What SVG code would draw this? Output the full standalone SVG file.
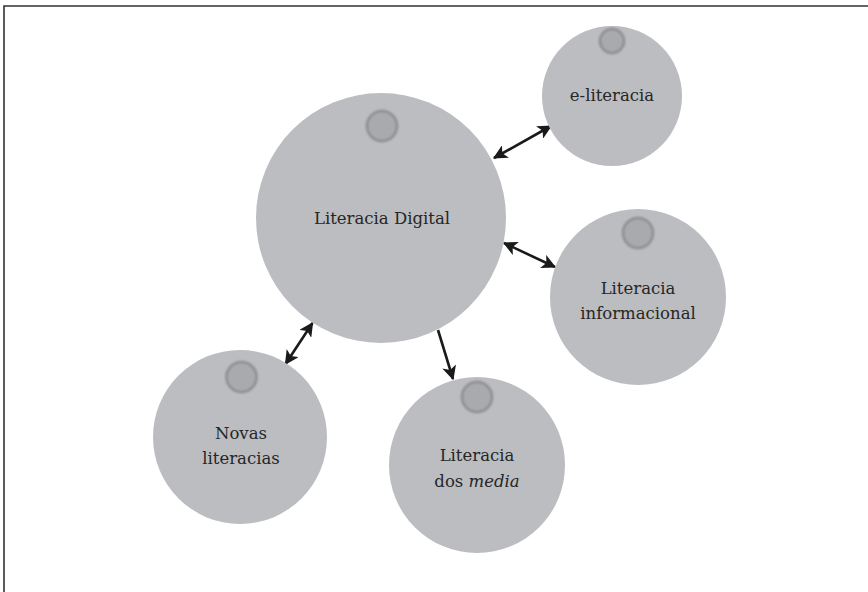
<svg xmlns="http://www.w3.org/2000/svg" width="868" height="592" viewBox="0 0 868 592">
<defs>
<style>
.big{fill:#bcbdc0}
.knob{fill:#a9aaad;stroke:#8c8d90;stroke-width:2.5}
.lbl{font-family:"DejaVu Serif","Liberation Serif",serif;font-size:16.5px;fill:#262626;text-anchor:middle}
.con{stroke:#1a1a1a;stroke-width:2.6;fill:none}
</style>
<filter id="soft" x="-50%" y="-50%" width="200%" height="200%"><feGaussianBlur stdDeviation="0.8"/></filter>
<marker id="ah" viewBox="0 0 12 12" refX="11" refY="6" markerWidth="5.5" markerHeight="5.5" orient="auto-start-reverse" markerUnits="strokeWidth">
<path d="M0,0 L12,6 L0,12 L3,6 Z" fill="#1a1a1a"/>
</marker>
</defs>
<rect width="868" height="592" fill="#fff"/>
<path d="M4,592 V6 H868" fill="none" stroke="#333" stroke-width="1.6"/>
<g id="connectors">
<line class="con" x1="494" y1="158" x2="551" y2="126" marker-start="url(#ah)" marker-end="url(#ah)"/>
<line class="con" x1="504" y1="243" x2="555" y2="267" marker-start="url(#ah)" marker-end="url(#ah)"/>
<line class="con" x1="285.5" y1="364" x2="312.5" y2="323" marker-start="url(#ah)" marker-end="url(#ah)"/>
<line class="con" x1="438" y1="330" x2="453" y2="379" marker-end="url(#ah)"/>
</g>
<g id="literacia-digital">
<circle class="big" cx="381" cy="218" r="125"/>
<circle class="knob" cx="382" cy="126" r="15" filter="url(#soft)"/>
<text class="lbl" x="382" y="224">Literacia Digital</text>
</g>
<g id="e-literacia">
<circle class="big" cx="612" cy="96" r="70"/>
<circle class="knob" cx="612" cy="41" r="12" filter="url(#soft)"/>
<text class="lbl" x="612" y="101">e-literacia</text>
</g>
<g id="literacia-informacional">
<circle class="big" cx="638" cy="297" r="88"/>
<circle class="knob" cx="638" cy="233" r="15" filter="url(#soft)"/>
<text class="lbl" x="638" y="294">Literacia</text>
<text class="lbl" x="638" y="319">informacional</text>
</g>
<g id="novas-literacias">
<circle class="big" cx="240" cy="437" r="87"/>
<circle class="knob" cx="241.5" cy="377" r="15" filter="url(#soft)"/>
<text class="lbl" x="241" y="439">Novas</text>
<text class="lbl" x="241" y="464">literacias</text>
</g>
<g id="literacia-dos-media">
<circle class="big" cx="477" cy="465" r="88"/>
<circle class="knob" cx="477" cy="397" r="15" filter="url(#soft)"/>
<text class="lbl" x="477" y="461">Literacia</text>
<text class="lbl" x="477" y="487">dos <tspan font-style="italic">media</tspan></text>
</g>
</svg>
